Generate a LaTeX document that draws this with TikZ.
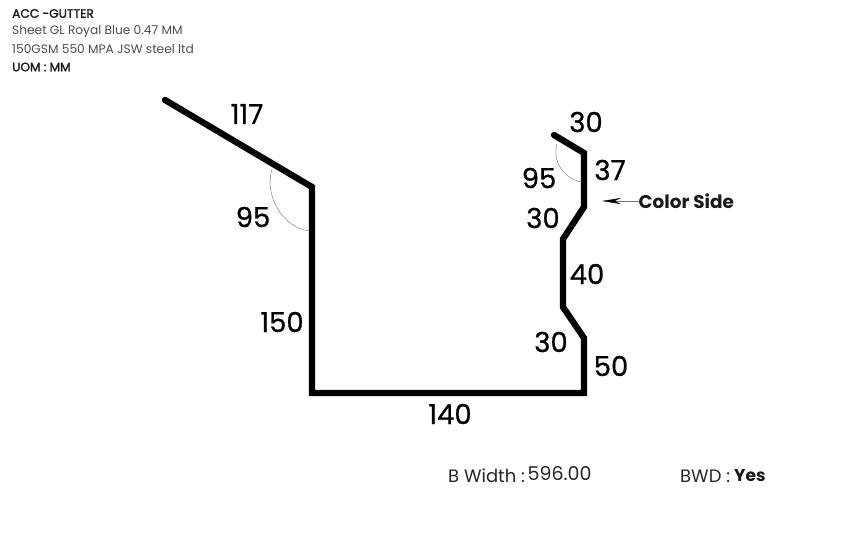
\documentclass[tikz,border=0pt]{standalone}
\usepackage{fontspec}
\setmainfont{Poppins}
\newfontfamily\medfont[FakeBold=0.7]{Poppins}
\newfontfamily\heavyfont[FakeBold=1.6]{Poppins}
\usetikzlibrary{arrows.meta}
\tikzset{
  sheetline/.style={line width=6.3pt, line join=miter, line cap=round},
  anglearc/.style={line width=0.4pt, black!55},
  dimlabel/.style={font=\medfont\fontsize{27.5}{27.5}\selectfont, text=black, inner sep=0pt},
  headlabel/.style={font=\fontsize{12.2}{13}\selectfont, text=black!70, inner sep=0pt, anchor=west},
  headbold/.style={headlabel, text=black!90, font=\heavyfont\fontsize{12.2}{13}\selectfont},
  footlabel/.style={font=\fontsize{18}{19}\selectfont, text=black!85, inner sep=0pt, anchor=base west},
}
\begin{document}
\begin{tikzpicture}[x=1pt, y=-1pt]
  \useasboundingbox (0,0) rectangle (848,552);

  %% Title block
  \node[headbold] (title) at (12,13.5) {ACC -GUTTER};
  \node[headlabel] (sheet) at (12,31.5) {Sheet GL Royal Blue 0.47 MM};
  \node[headlabel] (grade) at (12,49.5) {150GSM 550 MPA JSW steel ltd};
  \node[headbold] (uom) at (12,67) {UOM : MM};

  %% Sheet profile
  \draw[sheetline] (165,100)--(312,187)--(312,393)--(584,393)--(584,338)--(563,307)--(563,239)--(584,207)--(584,153)--(554,135);

  %% Angle arcs
  \draw[anglearc] (272,169) .. controls (264,195) and (282,228) .. (310,231);
  \draw[anglearc] (557,144) .. controls (552,160) and (563,179) .. (582,182);

  %% Lengths
  \node[dimlabel] (len117) at (247,114) {117};
  \node[dimlabel] (ang95a) at (253,217) {95};
  \node[dimlabel] (len150) at (282,322) {150};
  \node[dimlabel] (len140) at (450,414) {140};
  \node[dimlabel] (len30a) at (586,122) {30};
  \node[dimlabel] (ang95b) at (539,178) {95};
  \node[dimlabel] (len37) at (610,170) {37};
  \node[dimlabel] (len30b) at (543,218) {30};
  \node[dimlabel] (len40) at (587,274) {40};
  \node[dimlabel] (len30c) at (551,342) {30};
  \node[dimlabel] (len50) at (611,366) {50};

  %% Color side
  \node[font=\fontsize{18.4}{19}\selectfont\bfseries, text=black!90, inner sep=0pt, anchor=west] (colorside) at (638.5,201) {Color Side};
  \coordinate (colortip) at (602,201);
  \draw[line width=0.4pt, black!55, -{Stealth[length=19pt, width=6pt, black]}] (colorside.west)--(colortip);

  %% Footer
  \node[footlabel] (bwidth) at (448,482) {B Width :};
  \node[footlabel, font=\fontsize{19}{19}\selectfont] (bvalue) at (527.5,480.5) {596.00};
  \node[footlabel] (bwd) at (680,482) {BWD :};
  \node[footlabel, text=black!90, font=\fontsize{17}{18}\selectfont\bfseries] (bwdval) at (734,481) {Yes};
\end{tikzpicture}
\end{document}
